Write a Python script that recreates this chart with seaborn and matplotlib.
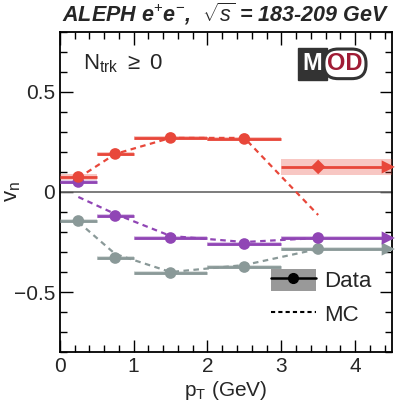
import matplotlib
matplotlib.use("Agg")
import matplotlib.pyplot as plt
import seaborn as sns
import numpy as np
import pandas as pd
from matplotlib.lines import Line2D
from matplotlib.patches import Patch

sns.set_theme(style="ticks")
plt.rcParams['font.family'] = ['Liberation Sans', 'DejaVu Sans']
plt.rcParams['mathtext.fontset'] = 'custom'
plt.rcParams['mathtext.rm'] = 'Liberation Sans'
plt.rcParams['mathtext.it'] = 'Liberation Sans:italic'

# Data
bin_lo = [0.0, 0.5, 1.0, 2.0, 3.0]
bin_hi = [0.5, 1.0, 2.0, 3.0, 4.5]
pt_center = [0.25, 0.75, 1.5, 2.5, 3.5]
red_data = [0.075, 0.19, 0.27, 0.265, 0.125]
red_syst = [0.015, 0.012, 0.01, 0.01, 0.04]
red_mc = [0.07, 0.19, 0.27, 0.27, -0.115]
purple_data = [0.05, -0.12, -0.23, -0.26, -0.23]
purple_syst = [0.012, 0.012, 0.01, 0.01, 0.01]
purple_mc = [-0.025, -0.11, -0.22, -0.25, -0.23]
gray_data = [-0.145, -0.33, -0.405, -0.375, -0.285]
gray_syst = [0.012, 0.012, 0.012, 0.012, 0.012]
gray_mc = [-0.15, -0.31, -0.40, -0.365, -0.285]

colors = {"red": "#e8473a", "purple": "#9045b5", "gray": "#8a9998"}
series = [
    ("gray", gray_data, gray_syst, gray_mc),
    ("purple", purple_data, purple_syst, purple_mc),
    ("red", red_data, red_syst, red_mc),
]

fig = plt.figure(figsize=(4.02, 4.08), dpi=100)
ax = fig.add_axes([0.149, 0.137, 0.826, 0.785])

ax.axhline(0, color="#666666", lw=1.2, zorder=1)

for name, d, s, mc in series:
    c = colors[name]
    df_mc = pd.DataFrame({"pt": pt_center, "v": mc})
    sns.lineplot(data=df_mc, x="pt", y="v", ax=ax, color=c, lw=1.6,
                 linestyle=(0, (2.5, 2)), zorder=2)
    for i in range(len(pt_center)):
        ax.fill_between([bin_lo[i], bin_hi[i]], d[i] - s[i], d[i] + s[i],
                        color=c, alpha=0.3, lw=0, zorder=3)
    ax.hlines(d, bin_lo, bin_hi, color=c, lw=2, zorder=4)
    df_d = pd.DataFrame({"pt": pt_center[:4], "v": d[:4]})
    sns.scatterplot(data=df_d, x="pt", y="v", ax=ax, color=c, s=70,
                    edgecolor="none", zorder=5)
    mk = "D" if name == "red" else "o"
    ax.scatter([pt_center[4]], [d[4]], color=c, s=55 if mk == "D" else 70,
               marker=mk, edgecolor="none", zorder=5)
    ax.scatter([bin_hi[4] - 0.05], [d[4]], color=c, marker=">", s=90,
               edgecolor="none", zorder=5, clip_on=False)

ax.set_xlim(0, 4.5)
ax.set_ylim(-0.8, 0.8)
ax.set_xticks([0, 1, 2, 3, 4])
ax.set_yticks([-0.5, 0, 0.5])
ax.set_yticklabels(["\u22120.5", "0", "0.5"])
ax.xaxis.set_minor_locator(matplotlib.ticker.MultipleLocator(0.2))
ax.yaxis.set_minor_locator(matplotlib.ticker.MultipleLocator(0.1))
ax.tick_params(which="both", direction="in", top=True, right=True,
               labelsize=15, color="black")
ax.tick_params(which="major", length=9, width=1)
ax.tick_params(which="minor", length=5, width=1)
for sp in ax.spines.values():
    sp.set_linewidth(1.3)
    sp.set_color("black")

ax.set_xlabel(r"p$_\mathregular{T}$ (GeV)", fontsize=15, labelpad=2)
ax.set_ylabel(r"v$_\mathregular{n}$", fontsize=16)
ax.yaxis.set_label_coords(-0.112, 0.5)

fig.text(0.562, 0.935, r"ALEPH e$^{+}$e$^{-}$,  $\sqrt{s}$ = 183-209 GeV",
         ha="center", va="bottom", fontsize=15.5, fontstyle="italic",
         fontweight="bold")

ax.text(0.07, 0.9, r"N$_\mathregular{trk}$ $\geq$ 0", transform=ax.transAxes,
        fontsize=16, ha="left", va="center")

# MOD logo
ax.text(0.73, 0.9, "M", transform=ax.transAxes, fontsize=17, color="white",
        fontweight="bold", ha="left", va="center",
        bbox=dict(boxstyle="square,pad=0.2", fc="#333333", ec="#333333"), zorder=6)
ax.text(0.805, 0.9, "OD", transform=ax.transAxes, fontsize=17, color="#a01c35",
        fontweight="bold", ha="left", va="center",
        bbox=dict(boxstyle="round,pad=0.14,rounding_size=0.6", fc="white",
                  ec="#333333", lw=2.2), zorder=7)

handles = [
    (Patch(fc="#999999", ec="none"), Line2D([], [], color="black", marker="o", lw=1.8, ms=7)),
    Line2D([], [], color="black", lw=1.5, linestyle=(0, (2, 1.5))),
]
leg = ax.legend(handles, ["Data", "MC"], loc="lower right",
                bbox_to_anchor=(1.0, 0.02), frameon=False, fontsize=16,
                handlelength=2.0, handleheight=1.1, handletextpad=0.4,
                labelspacing=0.45)

fig.savefig("out.png", dpi=100)
